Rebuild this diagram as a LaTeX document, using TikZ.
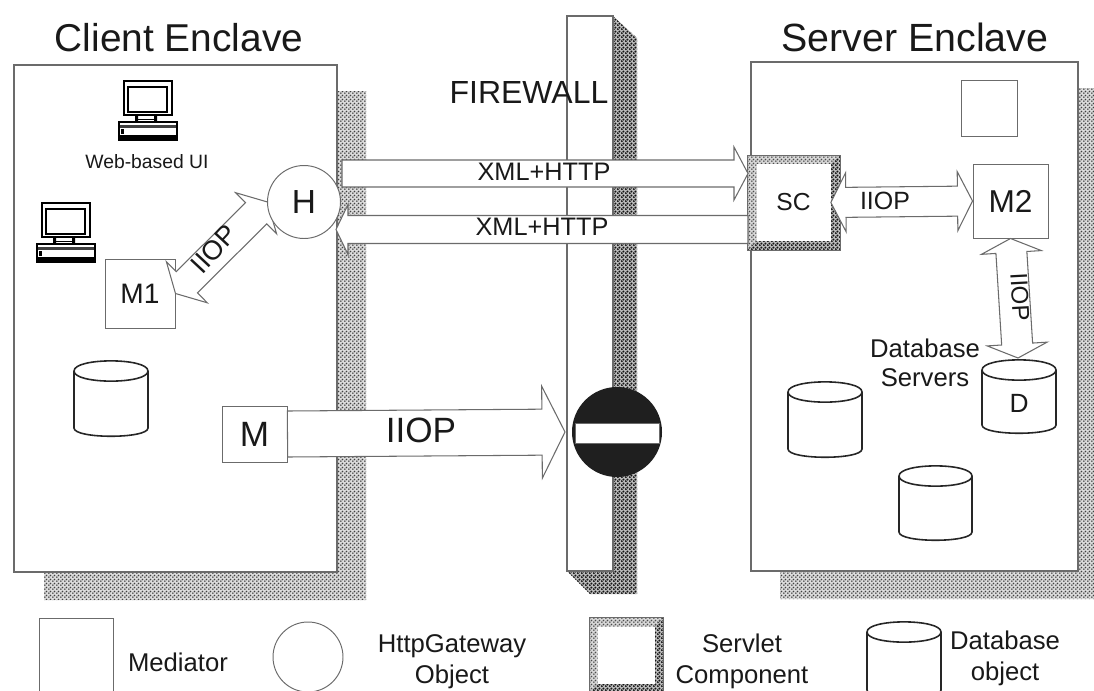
\documentclass[tikz,border=0pt]{standalone}
\usepackage{fontspec}
\setmainfont{Liberation Sans}
\usetikzlibrary{calc,patterns}
\pgfdeclarepatternformonly{chkdark}{\pgfqpoint{0pt}{0pt}}{\pgfqpoint{2.3pt}{2.3pt}}{\pgfqpoint{2.3pt}{2.3pt}}{%
  \pgfpathcircle{\pgfqpoint{0.575pt}{0.575pt}}{0.74pt}%
  \pgfpathcircle{\pgfqpoint{1.725pt}{1.725pt}}{0.74pt}%
  \pgfusepath{fill}}
\pgfdeclarepatternformonly{chklight}{\pgfqpoint{0pt}{0pt}}{\pgfqpoint{2.3pt}{2.3pt}}{\pgfqpoint{2.3pt}{2.3pt}}{%
  \pgfpathcircle{\pgfqpoint{0.575pt}{0.575pt}}{0.62pt}%
  \pgfpathcircle{\pgfqpoint{1.725pt}{1.725pt}}{0.62pt}%
  \pgfusepath{fill}}
\definecolor{ink}{gray}{0.1}
\definecolor{edge}{gray}{0.42}
\definecolor{darkdot}{gray}{0.08}
\definecolor{midshade}{gray}{0.25}
\definecolor{lightdot}{gray}{0.3}
\definecolor{basemid}{gray}{0.86}
\definecolor{basedark}{gray}{0.72}
\definecolor{baselight}{gray}{0.84}
\newcommand\fs[1]{\fontsize{#1}{#1}\selectfont}
\tikzset{
  x=0.02cm,y=-0.02cm,
  every node/.style={text=ink,inner sep=0pt,align=center},
  bx/.style 2 args={draw=edge,fill=white,line width=0.55pt,minimum width=#1*0.02cm,minimum height=#2*0.02cm},
  encl/.style={draw=edge,fill=white,line width=0.6pt},
  flow/.style={draw=edge,fill=white,line width=0.6pt,line join=miter},
  shadelight/.style={preaction={fill=basemid},pattern=chklight,pattern color=midshade},
  shadedark/.style={preaction={fill=basedark},pattern=chkdark,pattern color=darkdot},
  shadesc/.style={preaction={fill=baselight},pattern=chklight,pattern color=lightdot},
  cyl/.style={draw=black!85,fill=white,line width=0.9pt},
  lbl/.style={font=\fs{14.6}},
}
% single block arrow: from, to, half body, half head, head length
\newcommand\sarrow[5]{%
  \coordinate (hb) at ($(#2)!#5*0.02cm!(#1)$);
  \draw[flow] ($(#1)!#3*0.02cm!90:(#2)$) -- ($(hb)!#3*0.02cm!-90:(#1)$)
    -- ($(hb)!#4*0.02cm!-90:(#1)$) -- (#2) -- ($(hb)!#4*0.02cm!90:(#1)$)
    -- ($(hb)!#3*0.02cm!90:(#1)$) -- ($(#1)!#3*0.02cm!-90:(#2)$) -- cycle;}
% double block arrow: from, to, half body, half head, head length
\newcommand\darrow[5]{%
  \coordinate (hb) at ($(#2)!#5*0.02cm!(#1)$);
  \coordinate (ha) at ($(#1)!#5*0.02cm!(#2)$);
  \draw[flow] (#1) -- ($(ha)!#4*0.02cm!90:(#2)$) -- ($(ha)!#3*0.02cm!90:(#2)$)
    -- ($(hb)!#3*0.02cm!-90:(#1)$) -- ($(hb)!#4*0.02cm!-90:(#1)$) -- (#2)
    -- ($(hb)!#4*0.02cm!90:(#1)$) -- ($(hb)!#3*0.02cm!90:(#1)$)
    -- ($(ha)!#3*0.02cm!-90:(#2)$) -- ($(ha)!#4*0.02cm!-90:(#2)$) -- cycle;}
% database cylinder: name, x1, x2, y of ellipse centre, y of side end, text
\newcommand\dbcyl[6]{%
  \draw[cyl] (#2,#4) -- (#2,#5) .. controls (#2,{#5+11}) and (#3,{#5+11}) .. (#3,#5) -- (#3,#4)
     .. controls (#3,{#4-13.5}) and (#2,{#4-13.5}) .. (#2,#4) -- cycle;
  \draw[cyl] (#2,#4) .. controls (#2,{#4+13.5}) and (#3,{#4+13.5}) .. (#3,#4);
  \node (#1) at ({(#2+#3)/2},{(#4+#5)/2+6}) {#6};}
% servlet frame: name, cx, cy, half outer x, half outer y, half inner x, half inner y, text
\newcommand\scframe[8]{%
  \fill[white] ({#2-#4},{#3-#5}) rectangle ({#2+#4},{#3+#5});
  \fill[shadesc] ({#2-#4},{#3-#5}) -- ({#2+#4},{#3-#5}) -- ({#2+#6},{#3-#7}) -- ({#2-#6},{#3-#7}) -- ({#2-#6},{#3+#7}) -- ({#2-#4},{#3+#5}) -- cycle;
  \fill[shadedark] ({#2+#4},{#3-#5}) -- ({#2+#4},{#3+#5}) -- ({#2-#4},{#3+#5}) -- ({#2-#6},{#3+#7}) -- ({#2+#6},{#3+#7}) -- ({#2+#6},{#3-#7}) -- cycle;
  \draw[edge,line width=0.5pt] ({#2-#4},{#3-#5}) rectangle ({#2+#4},{#3+#5});
  \node (#1) [fill=white,minimum width=2*#6*0.02cm,minimum height=2*#7*0.02cm,font=\fs{14}] at (#2,#3) {#8};}
% desktop computer, origin = top left
\newcommand\computer[3]{%
  \begin{scope}[shift={(#2,#3)}]
    \coordinate (#1) at (29,30);
    \draw[black,line width=0.9pt,fill=white] (5,0) rectangle (53,34);
    \draw[black,line width=0.6pt] (9,6) rectangle (48,31);
    \fill[black] (16,34) rectangle (19,41) (35,34) rectangle (38,41);
    \draw[black,line width=0.5pt] (16,38) -- (38,38);
    \draw[black,line width=0.9pt,fill=white] (0,41) rectangle (58,59);
    \fill[black!75] (1,44) rectangle (57,47);
    \fill[black] (0,54) rectangle (58,59);
    \fill[black] (2,48) rectangle (5,53);
  \end{scope}}
\begin{document}
\begin{tikzpicture}
\useasboundingbox (0,0) rectangle (1094,690);
\clip (0,0) rectangle (1094,690);

% enclave shadows
\fill[shadelight] (337,91) -- (366,91) -- (366,600) -- (44,600) -- (44,572) -- (337,572) -- cycle;
\fill[shadelight] (1078,88) -- (1094,88) -- (1094,599) -- (780,599) -- (780,571) -- (1078,571) -- cycle;

% enclaves
\draw[encl] (14,65) rectangle (337,572);
\draw[encl] (751,62) rectangle (1078,571);
\node (clienttitle) at (179,38) {\fs{22.1}Client Enclave};
\node (servertitle) at (915,37) {\fs{22.4}Server Enclave};

% firewall
\fill[shadedark] (613,16) -- (637,38) -- (637,594) -- (590,594) -- (567,571) -- (613,571) -- cycle;
\draw[encl] (567,571) -- (567,16) -- (613,16) -- (613,571) -- cycle;
\node (fwlabel) at (529,92) {\fs{18.2}FIREWALL};

% no-entry sign
\node (stopsign) [circle,fill=black!88,minimum size=90*0.02cm] at (617,432) {};
\node (stopbar) [draw=edge,fill=white,line width=0.5pt,minimum width=84*0.02cm,minimum height=20*0.02cm] at (617,433) {};

% computers
\computer{pcA}{119}{81}
\computer{pcB}{37}{203}
\node (weblabel) at (147,162) {\fs{11}Web-based UI};

% client side mediators
\node (m1) [bx={70}{69},font=\fs{16}] at (140,293.5) {M1};
\node (m) [bx={65}{56},font=\fs{20}] at (254.5,434) {M};
\coordinate (mtip) at (565,432);
\coordinate (xaS) at (342,173.5);
\coordinate (xaE) at (748,173.5);
\coordinate (xbS) at (748,229.5);
\coordinate (xbE) at (336,229.5);
\coordinate (hw) at (267.5,202);

\scframe{sc}{793.5}{202.5}{46.5}{47.5}{37}{38.5}{SC}
\node (m2) [bx={75}{74},font=\fs{18}] at (1010.5,201) {M2};
\node (emptym) [bx={56}{56}] at (989,108) {};

% block arrows
\sarrow{m.east}{mtip}{23}{46}{23}
\sarrow{xaS}{xaE}{13.5}{26.5}{14}
\sarrow{xbS}{xbE}{14}{25}{12}
\node (xa) at (544,172) {\fs{14.4}XML+HTTP};
\node (xb) at (542,227) {\fs{14.4}XML+HTTP};
\node (iiopbig) at (421,430) {\fs{20}IIOP};

\darrow{m1.east}{hw}{15}{29}{16}
\node (h) [circle,draw=edge,fill=white,line width=0.55pt,minimum size=73*0.02cm,font=\fs{19}] at (304,202) {H};
\node (iiopd) [rotate=47,font=\fs{15.4}] at (214,249) {IIOP};

\darrow{sc.east}{m2.west}{15}{29.5}{15}
\node (iiops) [font=\fs{14.2}] at (885,201) {IIOP};

% databases
\dbcyl{dbL}{74}{148}{371}{428}{}
\dbcyl{dbA}{788}{862}{392}{449}{}
\dbcyl{dbB}{899}{972}{476}{532}{}
\dbcyl{dbD}{982}{1056}{370}{425}{\fs{15}D}
\coordinate (dtop) at (1018,358);
\darrow{m2.south}{dtop}{15.5}{30}{14}
\node (iiopv) [rotate=-87,font=\fs{13.7}] at (1020,297) {IIOP};
\node (dbtxt) [lbl] at (925,363) {Database\\[2pt]Servers};

% legend
\node (legm) [bx={74}{80}] at (76,658) {};
\node (legmt) [lbl] at (178,662) {Mediator};
\node (legh) [circle,draw=edge,line width=0.55pt,minimum size=70*0.02cm] at (308,657) {};
\node (leght) [lbl] at (452,662) {HttpGateway\\[3pt]Object};
\scframe{legs}{626}{655}{37}{38}{28.5}{28.5}{}
\node (legst) [lbl] at (742,661) {Servlet\\[3pt]Component};
\dbcyl{legd}{867}{941}{632}{690}{}
\node (legdt) [lbl] at (1005,658) {Database\\[3pt]object};
\end{tikzpicture}
\end{document}
